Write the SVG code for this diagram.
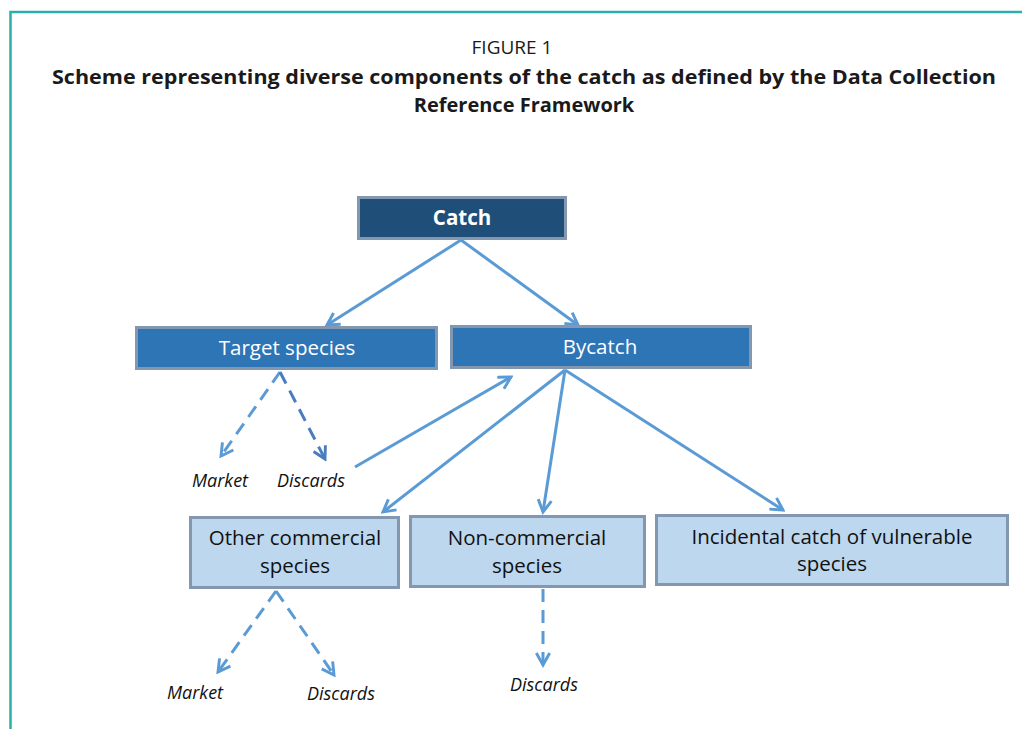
<svg xmlns="http://www.w3.org/2000/svg" width="1022" height="729" viewBox="0 0 1022 729">
<defs>
<style>
.frame{stroke:#2AB0A8;stroke-width:2.5;fill:none}
.title{font-family:"Open Sans","Noto Sans",sans-serif;fill:#1a1a1a;text-anchor:middle}
.box{stroke:#8497B0;stroke-width:3}
.dark{fill:#1F4E79}
.mid{fill:#2E75B6}
.light{fill:#BDD7EE}
.wt{font-family:"Open Sans","Noto Sans",sans-serif;font-size:20.5px;fill:#ffffff;text-anchor:middle}
.bt{font-family:"Open Sans","Noto Sans",sans-serif;font-size:20.5px;fill:#111111;text-anchor:middle}
.lbl{font-family:"Open Sans","Noto Sans",sans-serif;font-size:18px;font-style:italic;fill:#111111}
.ln{stroke:#5B9BD5;stroke-width:3;fill:none}
.dash{stroke-dasharray:13 8}
</style>
<marker id="ah" viewBox="0 0 12 12" refX="10" refY="6" markerWidth="16" markerHeight="16" markerUnits="userSpaceOnUse" orient="auto">
<path d="M1,1 L10,6 L1,11" fill="none" stroke="#5B9BD5" stroke-width="2.2"/>
</marker>
<marker id="ah2" viewBox="0 0 12 12" refX="10" refY="6" markerWidth="16" markerHeight="16" markerUnits="userSpaceOnUse" orient="auto">
<path d="M1,1 L10,6 L1,11" fill="none" stroke="#4A7DBF" stroke-width="2.2"/>
</marker>
</defs>
<rect width="1022" height="729" fill="#ffffff"/>
<path class="frame" d="M10.5,729 V12 H1022"/>
<text class="title" x="512" y="54" font-size="19">FIGURE 1</text>
<text class="title" x="524" y="84" font-size="20" font-weight="bold" textLength="944" lengthAdjust="spacingAndGlyphs">Scheme representing diverse components of the catch as defined by the Data Collection</text>
<text class="title" x="524" y="112" font-size="20" font-weight="bold">Reference Framework</text>

<g id="connectors">
<line class="ln" x1="461" y1="240" x2="327" y2="325" marker-end="url(#ah)"/>
<line class="ln" x1="461" y1="240" x2="578" y2="325" marker-end="url(#ah)"/>
<line class="ln dash" x1="280" y1="372" x2="221" y2="456" marker-end="url(#ah)"/>
<line class="ln dash" x1="280" y1="372" style="stroke:#4A7DBF" x2="325" y2="459" marker-end="url(#ah2)"/>
<line class="ln" x1="355" y1="467" x2="511" y2="377" marker-end="url(#ah)"/>
<line class="ln" x1="565" y1="370" x2="383" y2="512" marker-end="url(#ah)"/>
<line class="ln" x1="565" y1="370" x2="543" y2="512" marker-end="url(#ah)"/>
<line class="ln" x1="565" y1="370" x2="783" y2="510" marker-end="url(#ah)"/>
<line class="ln dash" x1="276" y1="591" x2="218" y2="672" marker-end="url(#ah)"/>
<line class="ln dash" x1="276" y1="591" x2="334" y2="675" marker-end="url(#ah)"/>
<line class="ln dash" x1="543" y1="589" x2="543" y2="665" marker-end="url(#ah)"/>
</g>

<g id="catch">
<rect class="box dark" x="358.5" y="197.5" width="207" height="41"/>
<text class="wt" x="462" y="225" font-weight="bold">Catch</text>
</g>
<g id="target">
<rect class="box mid" x="136.5" y="327.5" width="300" height="41"/>
<text class="wt" x="287" y="355">Target species</text>
</g>
<g id="bycatch">
<rect class="box mid" x="451.5" y="326.5" width="299" height="41"/>
<text class="wt" x="600" y="354">Bycatch</text>
</g>
<g id="other">
<rect class="box light" x="190.5" y="517.5" width="208" height="70"/>
<text class="bt" x="295" y="545">Other commercial</text>
<text class="bt" x="295" y="573">species</text>
</g>
<g id="noncommercial">
<rect class="box light" x="410.5" y="516.5" width="234" height="70"/>
<text class="bt" x="527" y="545">Non-commercial</text>
<text class="bt" x="527" y="573">species</text>
</g>
<g id="incidental">
<rect class="box light" x="656.5" y="515.5" width="351" height="69"/>
<text class="bt" x="832" y="544">Incidental catch of vulnerable</text>
<text class="bt" x="832" y="571">species</text>
</g>

<g id="labels">
<text class="lbl" x="192" y="487" font-size="19">Market</text>
<text class="lbl" x="277" y="487">Discards</text>
<text class="lbl" x="167" y="699" font-size="19">Market</text>
<text class="lbl" x="307" y="700">Discards</text>
<text class="lbl" x="510" y="691">Discards</text>
</g>
</svg>
